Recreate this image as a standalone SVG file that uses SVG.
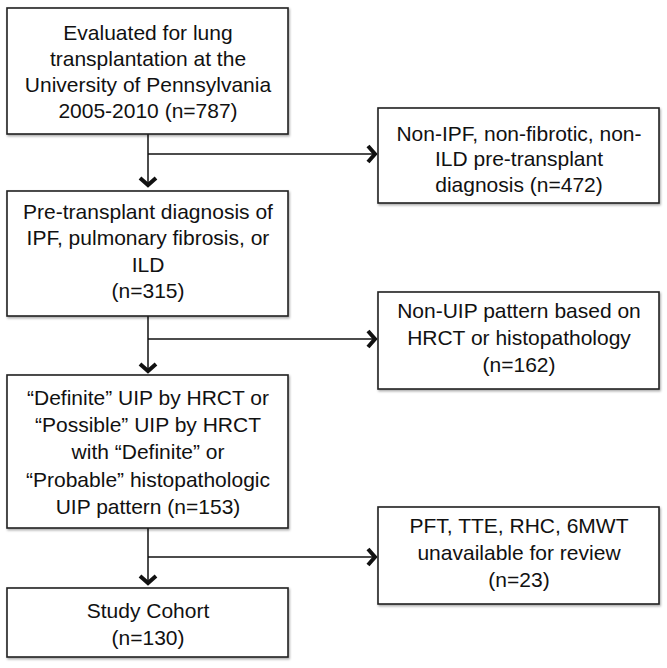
<svg xmlns="http://www.w3.org/2000/svg" width="667" height="668" viewBox="0 0 667 668">
<style>
.box{fill:#fff;stroke:#222;stroke-width:1.6}
.t{font-family:"Liberation Sans",Arial,sans-serif;font-size:21px;fill:#111;text-anchor:middle}
.ln{stroke:#111;stroke-width:1.5;fill:none}
</style>
<defs>
<marker id="ah" markerUnits="userSpaceOnUse" markerWidth="24" markerHeight="24" viewBox="-12 -12 14 24" refX="0" refY="0" orient="auto">
<path d="M-9,-8 L-2,0 L-9,8" fill="none" stroke="#111" stroke-width="4" stroke-linejoin="miter"/>
</marker>
<filter id="sh" x="-5%" y="-5%" width="115%" height="115%"><feDropShadow dx="1" dy="1.5" stdDeviation="1.2" flood-opacity="0.35"/></filter>
</defs>
<rect width="667" height="668" fill="#fff"/>
<g id="connectors">
<path class="ln" d="M148,134 V187" marker-end="url(#ah)"/>
<path class="ln" d="M148,154 H377" marker-end="url(#ah)"/>
<path class="ln" d="M148,316 V373" marker-end="url(#ah)"/>
<path class="ln" d="M148,339 H377" marker-end="url(#ah)"/>
<path class="ln" d="M148,528 V585" marker-end="url(#ah)"/>
<path class="ln" d="M148,557 H377" marker-end="url(#ah)"/>
</g>
<g id="n1"><rect class="box" filter="url(#sh)" x="7" y="8" width="281" height="126"/>
<text class="t" x="148" y="40">Evaluated for lung</text>
<text class="t" x="148" y="66">transplantation at the</text>
<text class="t" x="148" y="92">University of Pennsylvania</text>
<text class="t" x="148" y="118">2005-2010 (n=787)</text></g>
<g id="n2"><rect class="box" filter="url(#sh)" x="378" y="108" width="281" height="95"/>
<text class="t" x="519" y="141">Non-IPF, non-fibrotic, non-</text>
<text class="t" x="519" y="166">ILD pre-transplant</text>
<text class="t" x="519" y="192">diagnosis (n=472)</text></g>
<g id="n3"><rect class="box" filter="url(#sh)" x="7" y="191" width="281" height="125"/>
<text class="t" x="148" y="219">Pre-transplant diagnosis of</text>
<text class="t" x="148" y="245">IPF, pulmonary fibrosis, or</text>
<text class="t" x="148" y="272">ILD</text>
<text class="t" x="148" y="298">(n=315)</text></g>
<g id="n4"><rect class="box" filter="url(#sh)" x="378" y="292" width="281" height="97"/>
<text class="t" x="519" y="318">Non-UIP pattern based on</text>
<text class="t" x="519" y="345">HRCT or histopathology</text>
<text class="t" x="519" y="372">(n=162)</text></g>
<g id="n5"><rect class="box" filter="url(#sh)" x="7" y="375" width="281" height="153"/>
<text class="t" x="148" y="405">“Definite” UIP by HRCT or</text>
<text class="t" x="148" y="432">“Possible” UIP by HRCT</text>
<text class="t" x="148" y="459">with “Definite” or</text>
<text class="t" x="148" y="487">“Probable” histopathologic</text>
<text class="t" x="148" y="514">UIP pattern (n=153)</text></g>
<g id="n6"><rect class="box" filter="url(#sh)" x="378" y="507" width="281" height="97"/>
<text class="t" x="519" y="533">PFT, TTE, RHC, 6MWT</text>
<text class="t" x="519" y="560">unavailable for review</text>
<text class="t" x="519" y="587">(n=23)</text></g>
<g id="n7"><rect class="box" filter="url(#sh)" x="7" y="588" width="281" height="69"/>
<text class="t" x="148" y="618">Study Cohort</text>
<text class="t" x="148" y="645">(n=130)</text></g>
</svg>
